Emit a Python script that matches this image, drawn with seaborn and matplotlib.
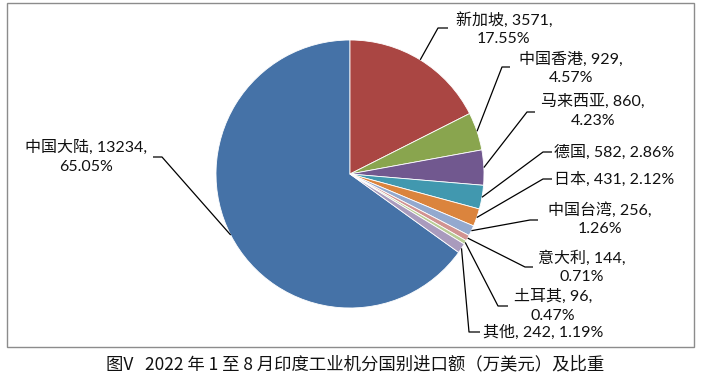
import matplotlib
matplotlib.use('Agg')
import matplotlib.pyplot as plt
import seaborn as sns
import numpy as np

# 2022年1-8月印度工业机进口额（万美元）
regions = ['中国大陆', '新加坡', '中国香港', '马来西亚', '德国', '日本', '中国台湾', '意大利', '土耳其', '其他']
values = [13234, 3571, 929, 860, 582, 431, 256, 144, 96, 242]
shares = ['65.05%', '17.55%', '4.57%', '4.23%', '2.86%', '2.12%', '1.26%', '0.71%', '0.47%', '1.19%']
colors = ['#4572A7', '#AA4643', '#89A54E', '#71588F', '#4198AF',
          '#DB843D', '#93A9CF', '#D19392', '#B9CD96', '#A99BBD']
one_line = ['德国', '日本', '其他']

# 标签布局（像素，y 从上往下）：文字中心, 折点, 短横线终点
label_layout = {
    '中国大陆': ((86, 157), (162, 157), (153, 157)),
    '新加坡': ((504, 29), (438, 28), (448, 28)),
    '中国香港': ((571, 68), (502, 67), (510, 67)),
    '马来西亚': ((593, 111), (527, 112), (535, 112)),
    '德国': ((614, 152), (543, 152), (552, 152)),
    '日本': ((614, 179), (543, 179), (552, 179)),
    '中国台湾': ((600, 219), (530, 220), (538, 220)),
    '意大利': ((582, 267), (525, 267), (533, 267)),
    '土耳其': ((553, 306), (498, 306), (508, 306)),
    '其他': ((543, 332), (469, 332), (480, 332)),
}

W, H = 705, 377
cx, cy, R = 350, 174, 134


def py(y):
    return H - y


sns.set_theme(style='white')
plt.rcParams['font.family'] = ['Lato', 'Noto Sans CJK SC', 'DejaVu Sans']

fig = plt.figure(figsize=(W / 100, H / 100), dpi=100)
ax = fig.add_axes([0, 0, 1, 1])

start = 90 + values[0] / sum(values) * 360
wedges, _ = ax.pie(values, colors=colors, startangle=start, counterclock=False,
                   center=(cx, py(cy)), radius=R,
                   wedgeprops=dict(edgecolor='white', linewidth=0.6))
ax.set_xlim(0, W)
ax.set_ylim(0, H)
ax.set_aspect('equal')
ax.axis('off')

for w, name, v, s in zip(wedges, regions, values, shares):
    mid = np.deg2rad((w.theta1 + w.theta2) / 2)
    ax_x = cx + R * np.cos(mid)
    ax_y = py(cy) + R * np.sin(mid)
    (tx, ty), (ex, ey), (hx, hy) = label_layout[name]
    ax.plot([ax_x, ex, hx], [ax_y, py(ey), py(hy)], color='black', lw=0.9,
            solid_capstyle='butt')
    if name in one_line:
        txt = f'{name}, {v}, {s}'
    else:
        txt = f'{name}, {v},\n{s}'
    ax.text(tx, py(ty), txt, ha='center', va='center', fontsize=11.5,
            linespacing=1.4, color='#111111')

# 外框
ax.add_patch(plt.Rectangle((7, py(347)), 687, 344, fill=False,
                           edgecolor='#8c8c8c', lw=1))

fig.text(355 / W, 1 - 364 / H, '图V   2022 年 1 至 8 月印度工业机分国别进口额（万美元）及比重',
         ha='center', va='center', fontsize=12.5, family=['Noto Sans CJK SC', 'DejaVu Sans'],
         color='#111111')

plt.savefig('out.png', dpi=100)
plt.close()
